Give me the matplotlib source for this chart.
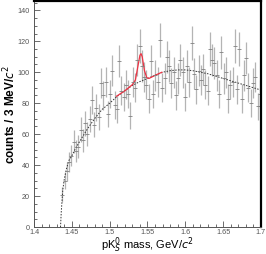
import numpy as np
import matplotlib
matplotlib.use('Agg')
import matplotlib.pyplot as plt
from matplotlib.ticker import MultipleLocator

plt.rcParams['font.family'] = ['Liberation Sans', 'DejaVu Sans']

# ヒストグラム (3 MeV ビン, 1.4375 から 1.6985 まで)
bin_start = 1.4375
bin_width = 0.003
counts = [21, 30, 36, 42, 46, 55, 49, 52, 63, 56,
          67, 60, 70, 82, 66, 77, 71, 93, 85, 94,
          73, 86, 101, 79, 76, 107, 88, 84, 92, 86,
          72, 94, 90, 108, 117, 104, 97, 92, 83, 107,
          86, 98, 94, 121, 90, 96, 110, 104, 93, 100,
          85, 96, 108, 100, 84, 104, 94, 119, 99, 89,
          101, 95, 102, 92, 88, 115, 108, 106, 98, 86,
          113, 96, 100, 83, 92, 94, 117, 89, 115, 83,
          98, 109, 90, 80, 93, 97, 78, 86]

# バックグラウンドのフィット曲線
bg_mass = [1.435, 1.436, 1.437, 1.438, 1.440, 1.443, 1.446, 1.450, 1.455,
           1.460, 1.470, 1.480, 1.490, 1.500, 1.510, 1.520, 1.530, 1.540,
           1.550, 1.560, 1.570, 1.580, 1.590, 1.600, 1.610, 1.620, 1.630,
           1.640, 1.650, 1.660, 1.670, 1.680, 1.690, 1.700]
bg_val = [0, 10, 17, 24, 31, 38, 43, 46, 51,
          55, 63, 70, 76, 80, 84.5, 88, 91.5, 94,
          96, 98, 100, 101, 101.5, 101.5, 101, 100, 99,
          97.5, 96, 94.5, 93, 91.5, 90, 88.5]

# 信号 + バックグラウンド (赤線)
sig_mass = [1.509, 1.520, 1.530, 1.534, 1.537, 1.540, 1.5415, 1.543,
            1.546, 1.549, 1.552, 1.560, 1.569]
sig_val = [84.5, 88, 92, 95, 103, 111, 112, 110,
           101, 96.5, 96, 98, 100]

mass = bin_start + bin_width * np.arange(len(counts))
y = np.array(counts, dtype=float)
err = np.sqrt(y)

fig = plt.figure(figsize=(2.66, 2.54), dpi=100)
ax = fig.add_axes([0.128, 0.106, 0.853, 0.890])

ax.errorbar(mass, y, yerr=err, fmt='_', color='#808080', ecolor='#b4b4b4',
            elinewidth=0.9, markersize=2.5, markeredgewidth=0.6, capsize=0)
ax.plot(bg_mass, bg_val, color='#333333', lw=0.7, ls=(0, (1.5, 1.5)))
ax.plot(sig_mass, sig_val, color='#ee3344', lw=0.9)

ax.set_xlim(1.4, 1.7)
ax.set_ylim(0, 146)
ax.xaxis.set_major_locator(MultipleLocator(0.05))
ax.xaxis.set_minor_locator(MultipleLocator(0.01))
ax.yaxis.set_major_locator(MultipleLocator(20))
ax.yaxis.set_minor_locator(MultipleLocator(5))
ax.set_xticks([1.4, 1.45, 1.5, 1.55, 1.6, 1.65, 1.7])
ax.set_xticklabels(['1.4', '1.45', '1.5', '1.55', '1.6', '1.65', '1.7'])

ax.tick_params(which='both', direction='in', labelsize=5.2, colors='#555555',
               width=0.6)
ax.tick_params(axis='x', pad=1.5)
ax.tick_params(axis='y', pad=3)
ax.tick_params(which='major', length=4)
ax.tick_params(which='minor', length=2)

for s in ['left', 'bottom']:
    ax.spines[s].set_color('#555555')
    ax.spines[s].set_linewidth(0.7)
for s in ['top', 'right']:
    ax.spines[s].set_color('black')
    ax.spines[s].set_linewidth(1.6)

ax.set_ylabel('counts / 3 MeV/$c^2$', fontsize=8.5, fontweight='bold', va='center')
ax.yaxis.set_label_coords(-0.108, 0.5)
ax.set_xlabel('pK$^0_S$ mass, GeV/$\\mathit{c}^2$', fontsize=8, va='center')
ax.xaxis.set_label_coords(0.5, -0.08)

fig.savefig('out.png', dpi=100)
